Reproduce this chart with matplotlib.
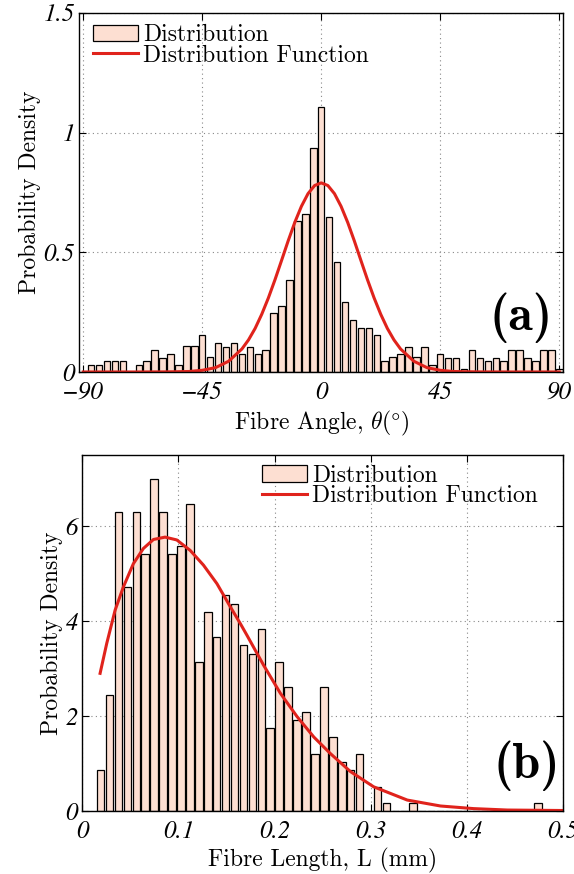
import numpy as np
import matplotlib.pyplot as plt
from matplotlib.patches import Patch
from matplotlib.lines import Line2D

plt.rcParams['mathtext.fontset'] = 'cm'

# (a) fibre angle histogram, 3 degree bins
angle_centres = np.arange(-87, 91, 3)
angle_density = [0.029, 0.029, 0.046, 0.046, 0.046, 0.0, 0.029, 0.046, 0.090, 0.060,
                 0.075, 0.029, 0.107, 0.107, 0.153, 0.061, 0.121, 0.106, 0.121, 0.075,
                 0.106, 0.075, 0.092, 0.245, 0.274, 0.384, 0.629, 0.660, 0.936, 1.106,
                 0.646, 0.460, 0.293, 0.216, 0.182, 0.182, 0.153, 0.044, 0.061, 0.075,
                 0.106, 0.061, 0.106, 0.028, 0.075, 0.058, 0.058, 0.014, 0.090, 0.058,
                 0.044, 0.058, 0.044, 0.090, 0.090, 0.058, 0.044, 0.090, 0.090, 0.014]
angle_curve_x = [-90, -80, -70, -60, -55, -50, -45, -40, -35, -30, -27.5, -25, -22.5,
                 -20, -17.5, -15, -12.5, -10, -7.5, -5, -2.5, 0, 2.5, 5, 7.5, 10, 12.5,
                 15, 17.5, 20, 22.5, 25, 27.5, 30, 35, 40, 45, 50, 55, 60, 70, 80, 90]
angle_curve_y = [0.0, 0.0, 0.0, 0.0003, 0.001, 0.002, 0.007, 0.018, 0.045, 0.096, 0.134,
                 0.182, 0.241, 0.309, 0.385, 0.466, 0.548, 0.625, 0.692, 0.745, 0.779,
                 0.790, 0.779, 0.745, 0.692, 0.625, 0.548, 0.466, 0.385, 0.309, 0.241,
                 0.182, 0.134, 0.096, 0.045, 0.018, 0.007, 0.002, 0.001, 0.0003, 0.0,
                 0.0, 0.0]

# (b) fibre length histogram, 50 bins
length_centres = 0.019 + 0.00929 * np.arange(50)
length_density = [0.86, 2.44, 6.29, 4.72, 6.29, 5.42, 6.99, 6.29, 5.42, 5.59,
                  6.46, 3.14, 4.19, 3.66, 4.54, 4.37, 3.49, 3.31, 3.84, 1.74,
                  3.14, 2.61, 1.91, 2.08, 1.21, 2.61, 1.56, 1.04, 0.86, 1.21,
                  0.0, 0.51, 0.17, 0.0, 0.0, 0.17, 0.0, 0.0, 0.0, 0.0,
                  0.0, 0.0, 0.0, 0.0, 0.0, 0.0, 0.0, 0.0, 0.0, 0.17]
length_curve_x = [0.0185, 0.0254, 0.0341, 0.0427, 0.0531, 0.0635, 0.074, 0.0861, 0.0983,
                  0.1122, 0.126, 0.14, 0.154, 0.1643, 0.1713, 0.1886, 0.206, 0.2233,
                  0.2407, 0.258, 0.2789, 0.303, 0.338, 0.3726, 0.407, 0.442, 0.5]
length_curve_y = [2.90, 3.53, 4.23, 4.72, 5.21, 5.53, 5.72, 5.77, 5.71,
                  5.49, 5.18, 4.79, 4.30, 3.95, 3.70, 3.07, 2.48, 1.99,
                  1.56, 1.21, 0.83, 0.51, 0.23, 0.105, 0.05, 0.02, 0.01]

bar_face = '#FDDFD2'
line_red = '#E0231C'
txt = 'cmr10'

fig = plt.figure(figsize=(5.74, 8.74), dpi=100)
ax1 = fig.add_axes([0.1376, 0.5744, 0.8441, 0.4108])
ax2 = fig.add_axes([0.1434, 0.0721, 0.8375, 0.4073])


def style_axes(ax, xticks, xlabels, yticks, ylabels):
    ax.set_xticks(xticks)
    ax.set_xticklabels(xlabels, fontfamily='STIXGeneral', fontstyle='italic', fontsize=18)
    ax.set_yticks(yticks)
    ax.set_yticklabels(ylabels, fontfamily='STIXGeneral', fontstyle='italic', fontsize=18)
    ax.tick_params(direction='in', top=True, right=True, length=5, width=0.8)
    ax.tick_params(axis='x', pad=7)
    ax.tick_params(axis='y', pad=3)
    ax.grid(True, linestyle=(0, (1, 3)), color='#888888', linewidth=0.8)
    ax.set_axisbelow(True)
    for s in ax.spines.values():
        s.set_linewidth(1.0)
    ax.set_ylabel('Probability Density', fontfamily=txt, fontsize=17, labelpad=2)


handles = [Patch(facecolor=bar_face, edgecolor='black', linewidth=0.9),
           Line2D([], [], color=line_red, linewidth=2.2)]
names = ['Distribution', 'Distribution Function']

# top panel
ax1.bar(angle_centres, angle_density, width=2.45, color=bar_face, edgecolor='black', linewidth=0.9)
ax1.plot(angle_curve_x, angle_curve_y, color=line_red, linewidth=2.2)
ax1.set_xlim(-91.6, 91.6)
ax1.set_ylim(0, 1.5)
style_axes(ax1, [-90, -45, 0, 45, 90], ['\u221290', '\u221245', '0', '45', '90'],
           [0, 0.5, 1, 1.5], ['0', '0.5', '1', '1.5'])
ax1.set_xlabel('Fibre Angle, $\\theta(\\degree)$', fontfamily=txt, fontsize=17, labelpad=4)
ax1.legend(handles, names, loc='upper left', bbox_to_anchor=(0.01, 0.995), frameon=False,
           prop={'family': txt, 'size': 17},
           handlelength=1.9, handletextpad=0.2, labelspacing=-0.08, borderaxespad=0.0)
ax1.text(0.912, 0.15, '(a)', transform=ax1.transAxes, fontfamily='cmb10', fontsize=36,
         ha='center', va='center')

# bottom panel
ax2.bar(length_centres, length_density, width=0.0079, color=bar_face, edgecolor='black', linewidth=0.9)
ax2.plot(length_curve_x, length_curve_y, color=line_red, linewidth=2.2)
ax2.set_xlim(0, 0.5)
ax2.set_ylim(0, 7.5)
style_axes(ax2, [0, 0.1, 0.2, 0.3, 0.4, 0.5], ['0', '0.1', '0.2', '0.3', '0.4', '0.5'],
           [0, 2, 4, 6], ['0', '2', '4', '6'])
ax2.set_xlabel('Fibre Length, L (mm)', fontfamily=txt, fontsize=17, labelpad=4)
ax2.legend(handles, names, loc='upper left', bbox_to_anchor=(0.355, 1.0), frameon=False,
           prop={'family': txt, 'size': 17},
           handlelength=1.9, handletextpad=0.2, labelspacing=-0.08, borderaxespad=0.0)
ax2.text(0.925, 0.126, '(b)', transform=ax2.transAxes, fontfamily='cmb10', fontsize=36,
         ha='center', va='center')

fig.savefig('out.png', dpi=100)
